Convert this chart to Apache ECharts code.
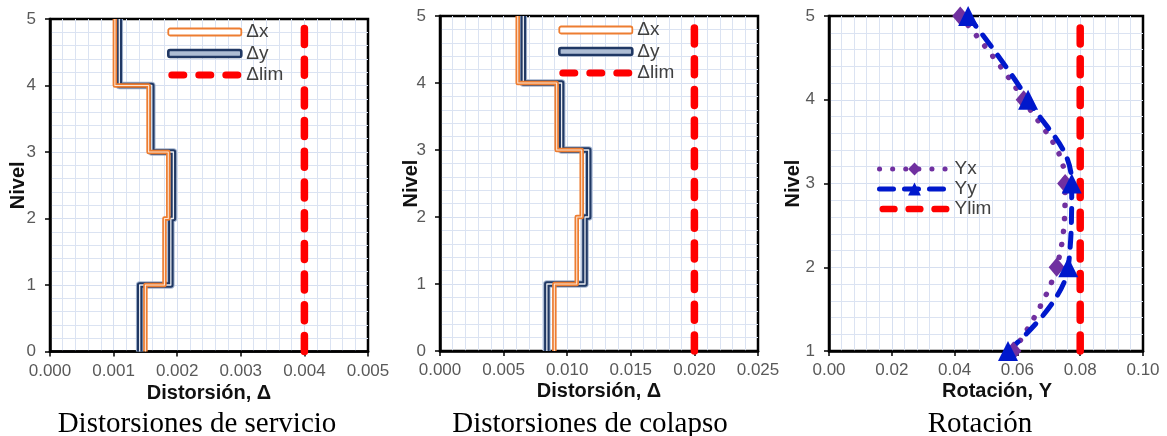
<!DOCTYPE html>
<html><head><meta charset="utf-8">
<script src="https://cdn.jsdelivr.net/npm/echarts@6/dist/echarts.min.js"></script>
<style>html,body{margin:0;padding:0;background:#fff}#c{width:1167px;height:436px}</style>
</head><body><div id="c"></div>
<script>
// ---- data ----
const levels = [0, 1, 2, 3, 4, 5];
const serviceDx = [0.00150, 0.00180, 0.00186, 0.00155, 0.00102];
const serviceDy = [0.00141, 0.00190, 0.00194, 0.00160, 0.00109];
const serviceLim = [0.004, 0.004];
const collapseDx = [0.00899, 0.01075, 0.01114, 0.00917, 0.00611];
const collapseDy = [0.00840, 0.01140, 0.01169, 0.00956, 0.00655];
const collapseLim = [0.020, 0.020];
const limLevels = [0, 5];
const rotLevels = [1, 2, 3, 4, 5];
const rotYx = [0.0587, 0.0725, 0.0752, 0.0620, 0.0418];
const rotYy = [0.0570, 0.0762, 0.0773, 0.0634, 0.0443];
const rotLim = [0.08, 0.08];
const rotLimLevels = [1, 5];
const serviceTicks = ['0.000', '0.001', '0.002', '0.003', '0.004', '0.005'];
const collapseTicks = ['0.000', '0.005', '0.010', '0.015', '0.020', '0.025'];
const rotTicks = ['0.00', '0.02', '0.04', '0.06', '0.08', '0.10'];
const levelTicks = ['0', '1', '2', '3', '4', '5'];
const rotLevelTicks = ['1', '2', '3', '4', '5'];
const captions = ['Distorsiones de servicio', 'Distorsiones de colapso', 'Rotación'];
const legendDrift = ['Δx', 'Δy', 'Δlim'];
const legendRot = ['Yx', 'Yy', 'Ylim'];

// ---- helpers ----
const FONT = '"Liberation Sans", Arial, sans-serif';
const ORANGE = '#ED7D31', NAVY = '#203864', HALO = '#a3b4cf', RED = '#FF0000', PURPLE = '#7030A0', BLUE = '#0018CC';
const LIMDASH = [16, 14.7];
function stepPts(vals, lv) {
  const p = [];
  vals.forEach((v, i) => { p.push([v, lv[i]]); p.push([v, lv[i + 1]]); });
  return p;
}
function pairs(xs, ys) { return xs.map((x, i) => [x, ys[i]]); }
function axisFromTicks(ticks) {
  const min = parseFloat(ticks[0]), max = parseFloat(ticks[ticks.length - 1]);
  const interval = parseFloat(ticks[1]) - parseFloat(ticks[0]);
  return { min, max, interval, formatter: v => ticks[Math.round((v - min) / interval)] };
}
function xAx(i, ticks, name, gap, pad) {
  const a = axisFromTicks(ticks);
  return {
    gridIndex: i, type: 'value', min: a.min, max: a.max, interval: a.interval,
    axisLine: { show: true, onZero: false, lineStyle: { color: '#000', width: 2.5 } },
    axisTick: { show: true, length: 5, lineStyle: { color: '#000', width: 1.5 } },
    axisLabel: { color: '#595959', fontSize: 17, fontFamily: FONT, margin: 11, formatter: a.formatter },
    splitLine: { show: true, showMinLine: false, showMaxLine: false, lineStyle: { color: '#d6dff0', width: 1 } },
    minorTick: { show: false, splitNumber: 5 },
    minorSplitLine: { show: true, lineStyle: { color: '#dbe3f2', width: 1 } },
    name: name, nameLocation: 'middle', nameGap: gap, nameMoveOverlap: false,
    nameTextStyle: { fontWeight: 'bold', fontSize: 20, color: '#111', fontFamily: FONT, padding: pad || 0 }
  };
}
function yAx(i, ticks, gap) {
  const a = axisFromTicks(ticks);
  return {
    gridIndex: i, type: 'value', min: a.min, max: a.max, interval: a.interval,
    axisLine: { show: true, onZero: false, lineStyle: { color: '#000', width: 2.5 } },
    axisTick: { show: true, length: 5, lineStyle: { color: '#000', width: 1.5 } },
    axisLabel: { color: '#595959', fontSize: 17, fontFamily: FONT, margin: 14, formatter: a.formatter },
    splitLine: { show: true, showMinLine: false, showMaxLine: false, lineStyle: { color: '#d6dff0', width: 1 } },
    minorTick: { show: false, splitNumber: 5 },
    minorSplitLine: { show: true, lineStyle: { color: '#dbe3f2', width: 1 } },
    name: 'Nivel', nameLocation: 'middle', nameGap: gap, nameMoveOverlap: false,
    nameTextStyle: { fontWeight: 'bold', fontSize: 20, color: '#111', fontFamily: FONT }
  };
}
function line(name, idx, data, ls, extra) {
  return Object.assign({
    type: 'line', name: name, xAxisIndex: idx, yAxisIndex: idx, data: data,
    symbol: 'none', showSymbol: false, clip: false, animation: false,
    lineStyle: ls, itemStyle: { color: ls.color }
  }, extra || {});
}
function driftSeries(idx, dx, dy, lim) {
  const lx = stepPts(dx, levels), ly = stepPts(dy, levels);
  return [
    line('_h' + idx, idx, ly, { color: HALO, width: 7.5, join: 'round' }),
    line('Δy', idx, ly, { color: NAVY, width: 5.5, join: 'round' }),
    line('_c' + idx, idx, ly, { color: '#ffffff', width: 1.3, opacity: 0.9, join: 'round' }),
    line('Δx', idx, lx, { color: ORANGE, width: 4.5, join: 'round' }),
    line('_d' + idx, idx, lx, { color: '#ffffff', width: 1.1, opacity: 0.8, join: 'round' }),
    line('Δlim', idx, pairs(lim, limLevels), { color: RED, width: 7.5, type: LIMDASH, cap: 'round' })
  ];
}
const dashIcon = 'path://M3.5,0H15.5A3.5,3.5,0,0,1,15.5,7H3.5A3.5,3.5,0,0,1,3.5,0Z' +
  'M30.5,0H42.5A3.5,3.5,0,0,1,42.5,7H30.5A3.5,3.5,0,0,1,30.5,0Z' +
  'M57.5,0H69.5A3.5,3.5,0,0,1,69.5,7H57.5A3.5,3.5,0,0,1,57.5,0Z';
function driftLegend(left, top) {
  return {
    orient: 'vertical', left: left, top: top, padding: 0, itemWidth: 73, itemHeight: 7, itemGap: 2.5,
    textStyle: { fontSize: 19, color: '#404040', fontFamily: FONT },
    data: [
      { name: legendDrift[0], icon: 'roundRect', itemStyle: { color: '#ffffff', borderColor: ORANGE, borderWidth: 1.8 } },
      { name: legendDrift[1], icon: 'roundRect', itemStyle: { color: '#aebdd4', borderColor: NAVY, borderWidth: 2.6 } },
      { name: legendDrift[2], icon: dashIcon, itemStyle: { color: RED, borderWidth: 0 } }
    ]
  };
}

const chart = echarts.init(document.getElementById('c'), null, { renderer: 'canvas' });
const option = {
  animation: false,
  backgroundColor: '#ffffff',
  grid: [
    { left: 50, top: 19, width: 318, height: 332.5, show: true, borderColor: '#000', borderWidth: 2.5, backgroundColor: 'transparent', containLabel: false, outerBoundsMode: 'none' },
    { left: 440, top: 16, width: 318, height: 335, show: true, borderColor: '#000', borderWidth: 2.5, backgroundColor: 'transparent', containLabel: false, outerBoundsMode: 'none' },
    { left: 829, top: 16, width: 314, height: 335, show: true, borderColor: '#000', borderWidth: 2.5, backgroundColor: 'transparent', containLabel: false, outerBoundsMode: 'none' }
  ],
  xAxis: [
    xAx(0, serviceTicks, 'Distorsión, Δ', 32),
    xAx(1, collapseTicks, 'Distorsión, Δ', 30),
    xAx(2, rotTicks, 'Rotación, Y', 30, [0, 0, 0, 22])
  ],
  yAxis: [
    yAx(0, levelTicks, 22),
    yAx(1, levelTicks, 19),
    yAx(2, rotLevelTicks, 26)
  ],
  legend: [
    driftLegend(167, 22.5),
    driftLegend(558, 20.5),
    {
      orient: 'vertical', left: 877, top: 159.5, padding: 0, itemWidth: 70, itemHeight: 16, itemGap: 1,
      textStyle: { fontSize: 19, color: '#404040', fontFamily: FONT },
      lineStyle: { width: 5, cap: 'round' },
      data: [
        { name: legendRot[0] },
        { name: legendRot[1] },
        { name: legendRot[2], icon: dashIcon, itemStyle: { color: RED, borderWidth: 0 } }
      ]
    }
  ],
  series: [].concat(
    driftSeries(0, serviceDx, serviceDy, serviceLim),
    driftSeries(1, collapseDx, collapseDy, collapseLim),
    [
      line('Yx', 2, pairs(rotYx, rotLevels), { color: PURPLE, width: 5.5, type: [0.1, 13], cap: 'round' },
        { symbol: 'diamond', showSymbol: true, symbolSize: [16, 19], smooth: 0.4, itemStyle: { color: PURPLE } }),
      line('Yy', 2, pairs(rotYy, rotLevels), { color: BLUE, width: 5, type: [14, 11], cap: 'round' },
        { symbol: 'triangle', showSymbol: true, symbolSize: [20, 20], smooth: 0.4, itemStyle: { color: BLUE }, z: 3 }),
      line('Ylim', 2, pairs(rotLim, rotLimLevels), { color: RED, width: 7.5, type: LIMDASH, cap: 'round' }, { z: 3 })
    ]
  ),
  graphic: captions.map((t, i) => ({
    type: 'text', x: [197, 590, 980][i], y: 424, silent: true,
    style: { text: t, fontSize: 29, fontFamily: '"Liberation Serif", "Times New Roman", serif', fill: '#000', align: 'center', verticalAlign: 'middle' }
  }))
};
chart.setOption(option);
</script>
</body></html>
